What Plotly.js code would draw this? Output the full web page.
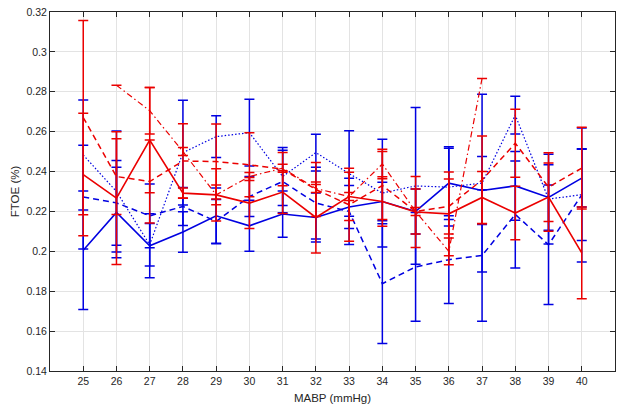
<!DOCTYPE html>
<html>
<head>
<meta charset="utf-8">
<script src="https://cdn.plot.ly/plotly-3.0.1.min.js"></script>
<style>html,body{margin:0;padding:0;background:#fff;}#chart{width:624px;height:411px;}</style>
</head>
<body>
<div id="chart"></div>
<script>
// MABP categories (mmHg)
const mabp = [25, 26, 27, 28, 29, 30, 31, 32, 33, 34, 35, 36, 37, 38, 39, 40];

// Red solid
const redSolid    = [0.2385, 0.2267, 0.2558, 0.2292, 0.2283, 0.2242, 0.2297, 0.2170, 0.2275, 0.2250, 0.2197, 0.2188, 0.2270, 0.2192, 0.2272, 0.1992];
const redSolidErr = [0.0307, 0.0333, 0.0264, 0.0025, 0.0131, 0.0128, 0.0107, 0.0178, 0.0121, 0.0124, 0.0178, 0.0210, 0.0130, 0.0134, 0.0171, 0.0230];

// Red dashed
const redDash     = [0.2671, 0.2375, 0.2350, 0.2453, 0.2450, 0.2434, 0.2412, 0.2310, 0.2233, 0.2330, 0.2200, 0.2225, 0.2358, 0.2542, 0.2322, 0.2417];
const redDashErr  = [0.0487, 0.0190, 0.0208, 0.0187, 0.0188, 0.0160, 0.0083, 0.0135, 0.0183, 0.0170, 0.0113, 0.0138, 0.0220, 0.0170, 0.0172, 0.0205];

// Red dash-dot
const redDashDot    = [null, 0.2833, 0.2705, 0.2500, 0.2283, 0.2375, 0.2417, 0.2315, 0.2275, 0.2438, 0.2200, 0.2000, 0.2867, null, null, null];
const redDashDotErr = [null, 0.0000, 0.0117, 0.0020, 0.0050, 0.0020, 0.0020, 0.0020, 0.0020, 0.0074, 0.0020, 0.0067, 0.0000, null, null, null];

// Blue solid
const blueSolid    = [0.2005, 0.2195, 0.2028, 0.2097, 0.2178, 0.2128, 0.2187, 0.2170, 0.2222, 0.2250, 0.2200, 0.2342, 0.2305, 0.2328, 0.2270, 0.2367];
const blueSolidErr = [0.0297, 0.0227, 0.0160, 0.0102, 0.0140, 0.0128, 0.0116, 0.0123, 0.0108, 0.0097, 0.0113, 0.0183, 0.0170, 0.0172, 0.0164, 0.0145];

// Blue dashed
const blueDash    = [0.2272, 0.2243, 0.2178, 0.2225, 0.2150, 0.2275, 0.2350, 0.2242, 0.2200, 0.1838, 0.1922, 0.1958, 0.1979, 0.2185, 0.2033, 0.2283];
const blueDashErr = [0.0260, 0.0213, 0.0160, 0.0095, 0.0110, 0.0100, 0.0157, 0.0180, 0.0166, 0.0300, 0.0273, 0.0220, 0.0330, 0.0268, 0.0300, 0.0336];

// Blue dotted
const blueDot    = [0.2483, 0.2300, 0.2033, 0.2495, 0.2575, 0.2595, 0.2375, 0.2495, 0.2390, 0.2292, 0.2328, 0.2322, 0.2342, 0.2683, 0.2262, 0.2284];
const blueDotErr = [0.0276, 0.0303, 0.0106, 0.0263, 0.0105, 0.0167, 0.0145, 0.0092, 0.0214, 0.0270, 0.0393, 0.0195, 0.0446, 0.0095, 0.0225, 0.0230];

const yTicks = [0.14, 0.16, 0.18, 0.2, 0.22, 0.24, 0.26, 0.28, 0.3, 0.32];

const RED = 'rgb(235,0,0)';
const BLUE = 'rgb(0,0,225)';

function tr(y, err, color, dash, lw) {
  return {
    x: mabp, y: y, type: 'scatter', mode: 'lines',
    line: {color: color, width: lw, dash: dash},
    connectgaps: false,
    error_y: {type: 'data', array: err, visible: true, color: color, thickness: 1.5, width: 5},
    hoverinfo: 'skip', showlegend: false
  };
}

const data = [
  tr(blueDot, blueDotErr, BLUE, '1.5px,2px', 1.2),
  tr(blueDash, blueDashErr, BLUE, '6px,4px', 1.5),
  tr(blueSolid, blueSolidErr, BLUE, 'solid', 1.6),
  tr(redDashDot, redDashDotErr, RED, '6px,3px,1.5px,3px', 1.2),
  tr(redDash, redDashErr, RED, '6px,4px', 1.5),
  tr(redSolid, redSolidErr, RED, 'solid', 1.6)
];

const axisFont = {family: 'Liberation Sans, Arial, sans-serif', size: 10.5, color: '#262626'};

const layout = {
  width: 624, height: 411,
  margin: {l: 50, r: 9, t: 12, b: 40, pad: 0},
  paper_bgcolor: '#fff', plot_bgcolor: '#fff',
  showlegend: false,
  xaxis: {
    range: [24, 41], tickvals: mabp, ticktext: mabp.map(String),
    ticks: 'inside', ticklen: 5, tickcolor: '#262626', tickwidth: 1,
    showline: true, linecolor: '#262626', linewidth: 1, mirror: 'ticks',
    showgrid: true, gridcolor: '#e3e3e3', gridwidth: 1, zeroline: false,
    tickfont: axisFont,
    title: {text: 'MABP (mmHg)', font: {family: 'Liberation Sans, Arial, sans-serif', size: 11.5, color: '#262626'}, standoff: 8}
  },
  yaxis: {
    range: [0.14, 0.32], tickvals: yTicks,
    ticks: 'inside', ticklen: 5, tickcolor: '#262626', tickwidth: 1,
    showline: true, linecolor: '#262626', linewidth: 1, mirror: 'ticks',
    showgrid: true, gridcolor: '#e3e3e3', gridwidth: 1, zeroline: false,
    tickfont: axisFont,
    title: {text: 'FTOE (%)', font: {family: 'Liberation Sans, Arial, sans-serif', size: 11.5, color: '#262626'}, standoff: 4}
  }
};

Plotly.newPlot('chart', data, layout, {staticPlot: true, displayModeBar: false});
</script>
</body>
</html>
